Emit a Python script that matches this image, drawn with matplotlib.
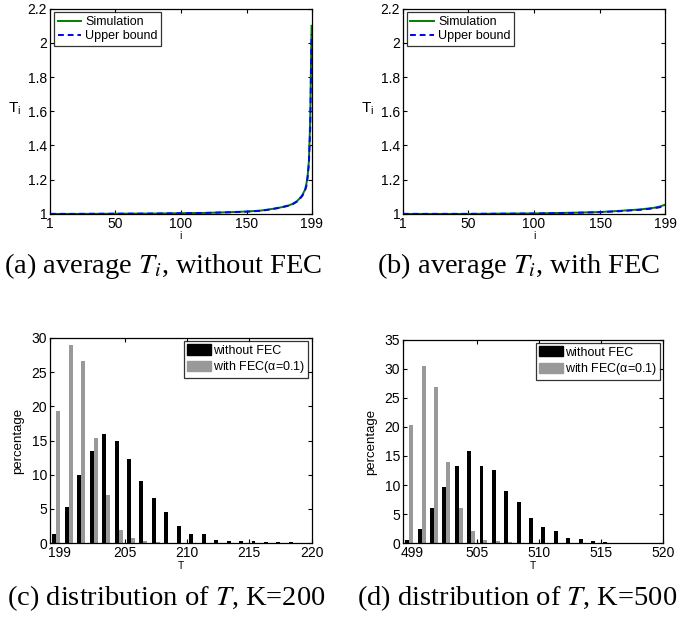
import numpy as np
import matplotlib.transforms as mtrans
from matplotlib import pyplot as plt
from matplotlib.patches import Patch

plt.rcParams['font.family'] = ['Liberation Sans', 'DejaVu Sans']
plt.rcParams['mathtext.fontset'] = 'stix'

# average T_i curves
i_a = [1, 20, 50, 80, 100, 120, 140, 150, 160, 165, 170, 175, 180, 182, 185, 188,
       190, 192, 194, 195, 196, 197, 198, 199]
sim_a = [1.0, 1.0, 1.001, 1.002, 1.004, 1.006, 1.011, 1.014, 1.019, 1.024, 1.03, 1.037,
         1.046, 1.05, 1.06, 1.075, 1.09, 1.11, 1.14, 1.17, 1.22, 1.31, 1.55, 2.1]
ub_a = [1.0, 1.0, 1.001, 1.002, 1.004, 1.006, 1.01, 1.013, 1.018, 1.023, 1.029, 1.036,
        1.045, 1.049, 1.058, 1.072, 1.087, 1.105, 1.135, 1.16, 1.21, 1.29, 1.5, 2.05]
i_b = [1, 50, 100, 130, 150, 165, 180, 190, 195, 199]
sim_b = [1.0, 1.0, 1.003, 1.007, 1.011, 1.018, 1.026, 1.035, 1.043, 1.054]
ub_b = [1.0, 1.0, 1.002, 1.006, 1.010, 1.016, 1.024, 1.032, 1.039, 1.048]

# distribution of T (percentage)
T_c = np.arange(199, 220)
nofec_c = [1.4, 5.3, 10.0, 13.4, 16.0, 15.0, 12.3, 9.1, 6.6, 4.5, 2.5, 1.4, 1.3, 0.45,
           0.3, 0.35, 0.25, 0.15, 0.1, 0.1, 0.05]
fec_c = [19.3, 29.0, 26.6, 15.4, 7.1, 1.9, 0.7, 0.3, 0.15, 0.05, 0, 0, 0, 0,
         0, 0, 0, 0, 0, 0, 0]
T_d = np.arange(499, 520)
nofec_d = [0.5, 2.5, 6.0, 9.6, 13.3, 15.9, 13.3, 12.6, 8.9, 7.0, 4.4, 2.8, 2.0, 0.9,
           0.65, 0.3, 0.2, 0.1, 0.05, 0.05, 0.05]
fec_d = [20.4, 30.5, 26.9, 14.0, 6.1, 2.0, 0.5, 0.3, 0.15, 0.05, 0, 0, 0, 0,
         0, 0, 0, 0, 0, 0, 0]

fs = 10     # tick labels
lfs = 9     # legend / axis labels
fig = plt.figure(figsize=(6.9, 6.2), dpi=100)


def style(ax):
    ax.tick_params(direction='in', top=True, right=True, labelsize=fs, length=3)
    ax.tick_params(axis='x', pad=2)
    ax.tick_params(axis='y', pad=2)
    for s in ax.spines.values():
        s.set_linewidth(0.9)


def curve_panel(rect, i, sim, ub):
    ax = fig.add_axes(rect)
    ax.plot(i, sim, color=(0, 0.5, 0), lw=1.4, label='Simulation')
    ax.plot(i, ub, color=(0, 0, 1), lw=1.4, ls=(0, (3, 2)), label='Upper bound')
    ax.set_xlim(1, 199)
    ax.set_ylim(1, 2.2)
    ax.set_xticks([1, 50, 100, 150, 199])
    ax.set_yticks([1, 1.2, 1.4, 1.6, 1.8, 2, 2.2])
    ax.set_yticklabels(['1', '1.2', '1.4', '1.6', '1.8', '2', '2.2'])
    style(ax)
    ax.set_xlabel('i', fontsize=lfs - 1.5, labelpad=0)
    ax.set_ylabel(r'$\mathregular{T_i}$', fontsize=fs + 1, rotation=0)
    ax.yaxis.set_label_coords(-0.135, 0.47)
    leg = ax.legend(loc='upper left', fontsize=lfs, handlelength=1.9, borderpad=0.3,
                    labelspacing=0.15, handletextpad=0.3, fancybox=False,
                    borderaxespad=0.3)
    leg.get_frame().set_edgecolor('black')
    leg.get_frame().set_linewidth(0.9)
    return ax


def hist_panel(rect, T, nofec, fec, ymax, xticks):
    ax = fig.add_axes(rect)
    ax.bar(T + 0.34, nofec, width=0.32, color='black')
    ax.bar(T + 0.66, fec, width=0.32, color=(0.6, 0.6, 0.6))
    ax.set_xlim(T[0], T[0] + 21)
    ax.set_ylim(0, ymax)
    ax.set_xticks(xticks)
    ax.set_yticks(np.arange(0, ymax + 1, 5))
    style(ax)
    # first x label sits a little to the right, clear of the "0"
    lab = ax.get_xticklabels()[0]
    lab.set_transform(lab.get_transform() +
                      mtrans.ScaledTranslation(9 / 100, 0, fig.dpi_scale_trans))
    ax.set_xlabel('T', fontsize=lfs - 1.5, labelpad=1)
    ax.set_ylabel('percentage', fontsize=lfs + 0.5)
    ax.yaxis.set_label_coords(-0.1, 0.5)
    handles = [Patch(color='black'), Patch(color=(0.6, 0.6, 0.6))]
    leg = ax.legend(handles, ['without FEC', r'with FEC($\mathregular{\alpha}$=0.1)'],
                    loc='upper right', fontsize=lfs, handlelength=1.9, handleheight=0.9,
                    borderpad=0.25, labelspacing=0.2, handletextpad=0.15,
                    fancybox=False, borderaxespad=0.25)
    leg.get_frame().set_edgecolor('black')
    leg.get_frame().set_linewidth(0.9)
    return ax


curve_panel([0.0725, 0.655, 0.379, 0.331], i_a, sim_a, ub_a)
curve_panel([0.584, 0.655, 0.380, 0.331], i_b, sim_b, ub_b)
hist_panel([0.0725, 0.124, 0.379, 0.331], T_c, nofec_c, fec_c, 30,
           [199, 205, 210, 215, 220])
hist_panel([0.584, 0.124, 0.377, 0.328], T_d, nofec_d, fec_d, 35,
           [499, 505, 510, 515, 520])

cap = dict(fontsize=20.5, family='Liberation Serif', ha='center', va='center')
fig.text(163 / 690, 1 - 266 / 620, r'(a) average $T_i$, without FEC', **cap)
fig.text(519 / 690, 1 - 266 / 620, r'(b) average $T_i$, with FEC', **cap)
fig.text(166 / 690, 1 - 598 / 620, r'(c) distribution of $T$, K=200', **cap)
fig.text(517 / 690, 1 - 598 / 620, r'(d) distribution of $T$, K=500', **cap)

fig.savefig('out.png', dpi=100)
